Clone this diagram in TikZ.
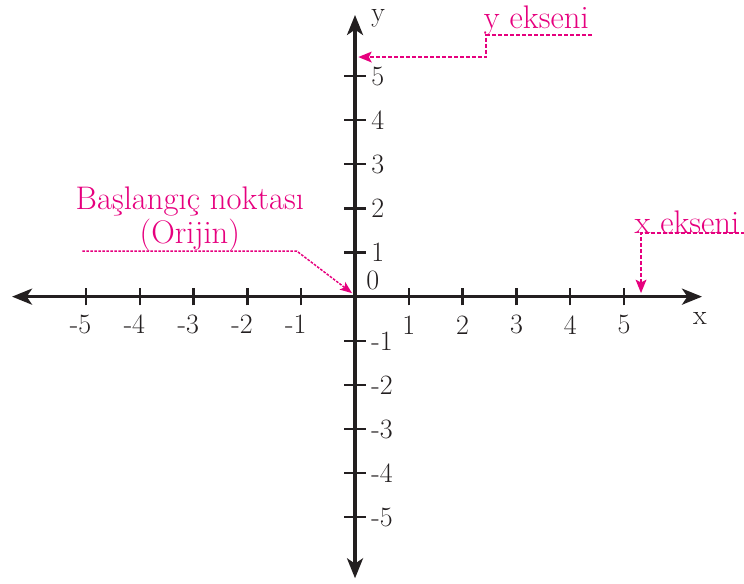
\documentclass[tikz,border=0pt]{standalone}
\usepackage{fontspec}
\usepackage{tikz}
\usetikzlibrary{arrows.meta,positioning}
\definecolor{axisblack}{HTML}{231F20}
\definecolor{notepink}{HTML}{E6007E}

\begin{document}
\begin{tikzpicture}[
  x=1.418cm, y=1.163cm,
  axis/.style={
    draw=axisblack, line width=2.3pt,
    {Stealth[length=15pt,width=12pt,inset=4pt]}-{Stealth[length=15pt,width=12pt,inset=4pt]}
  },
  tickmark/.style={draw=axisblack, line width=1.7pt},
  ticklabel/.style={font=\fontsize{21}{25}\selectfont, text=axisblack, inner sep=0pt},
  notelabel/.style={font=\fontsize{24.5}{28}\selectfont, text=notepink, inner sep=0pt},
  noteline/.style={
    draw=notepink, line width=1.6pt, dash pattern=on 3pt off 1.5pt,
    -{Stealth[length=10pt,width=8pt,inset=2pt]}
  },
  origline/.style={
    draw=notepink, line width=1.1pt, dash pattern=on 2pt off 1pt,
    -{Stealth[length=9pt,width=7pt,inset=2pt]}
  }
]
  \useasboundingbox (-6.599,-6.497) rectangle (7.230,6.723);

  % Axes
  \coordinate (xmin) at (-6.375,0);
  \coordinate (xmax) at (6.45,0);
  \coordinate (ymin) at (0,-6.383);
  \coordinate (ymax) at (0,6.383);
  \draw[axis] (xmin) -- (xmax);
  \draw[axis] (ymin) -- (ymax);

  % Ticks and numbers
  \foreach \i in {1,...,5} {
    \draw[tickmark] (\i,-0.2) -- (\i,0.2);
    \draw[tickmark] (-\i,-0.2) -- (-\i,0.2);
    \draw[tickmark] (-0.2,\i) -- (0.2,\i);
    \draw[tickmark] (-0.2,-\i) -- (0.2,-\i);
    \node[ticklabel] (xpos\i) at (\i,-0.64) {\i};
    \node[ticklabel] (xneg\i) at (-\i-0.1,-0.62) {-\i};
    \node[ticklabel, anchor=west] (ypos\i) at (0.3,\i) {\i};
    \node[ticklabel, anchor=west] (yneg\i) at (0.3,-\i) {-\i};
  }
  \node[ticklabel] (zero) at (0.33,0.374) {0};
  \node[ticklabel] (xname) at (6.41,-0.49) {x};
  \node[ticklabel] (yname) at (0.43,6.31) {y};

  % y ekseni
  \node[notelabel] (ynote) at (3.37,6.27) {y ekseni};
  \coordinate (yline) at (4.40,5.93);
  \coordinate (ybend) at (2.44,5.93);
  \coordinate (ytip) at (0.06,5.43);
  \draw[noteline] (yline) -- (ybend) -- (ybend |- ytip) -- (ytip);

  % x ekseni
  \node[notelabel] (xnote) at (6.17,1.69) {x ekseni};
  \coordinate (xline) at (7.25,1.44);
  \coordinate (xbend) at (5.316,1.44);
  \coordinate (xtip) at (5.316,0.08);
  \draw[noteline] (xline) -- (xbend) -- (xtip);

  % Origin
  \node[notelabel] (orignote) at (-3.07,2.16) {Başlangıç noktası};
  \node[notelabel] (orijin) at (-3.07,1.40) {(Orijin)};
  \coordinate (origline) at (-5.07,1.03);
  \coordinate (origbend) at (-1.08,1.03);
  \coordinate (origtip) at (-0.056,0.08);
  \draw[origline] (origline) -- (origbend) -- (origtip);
\end{tikzpicture}
\end{document}
